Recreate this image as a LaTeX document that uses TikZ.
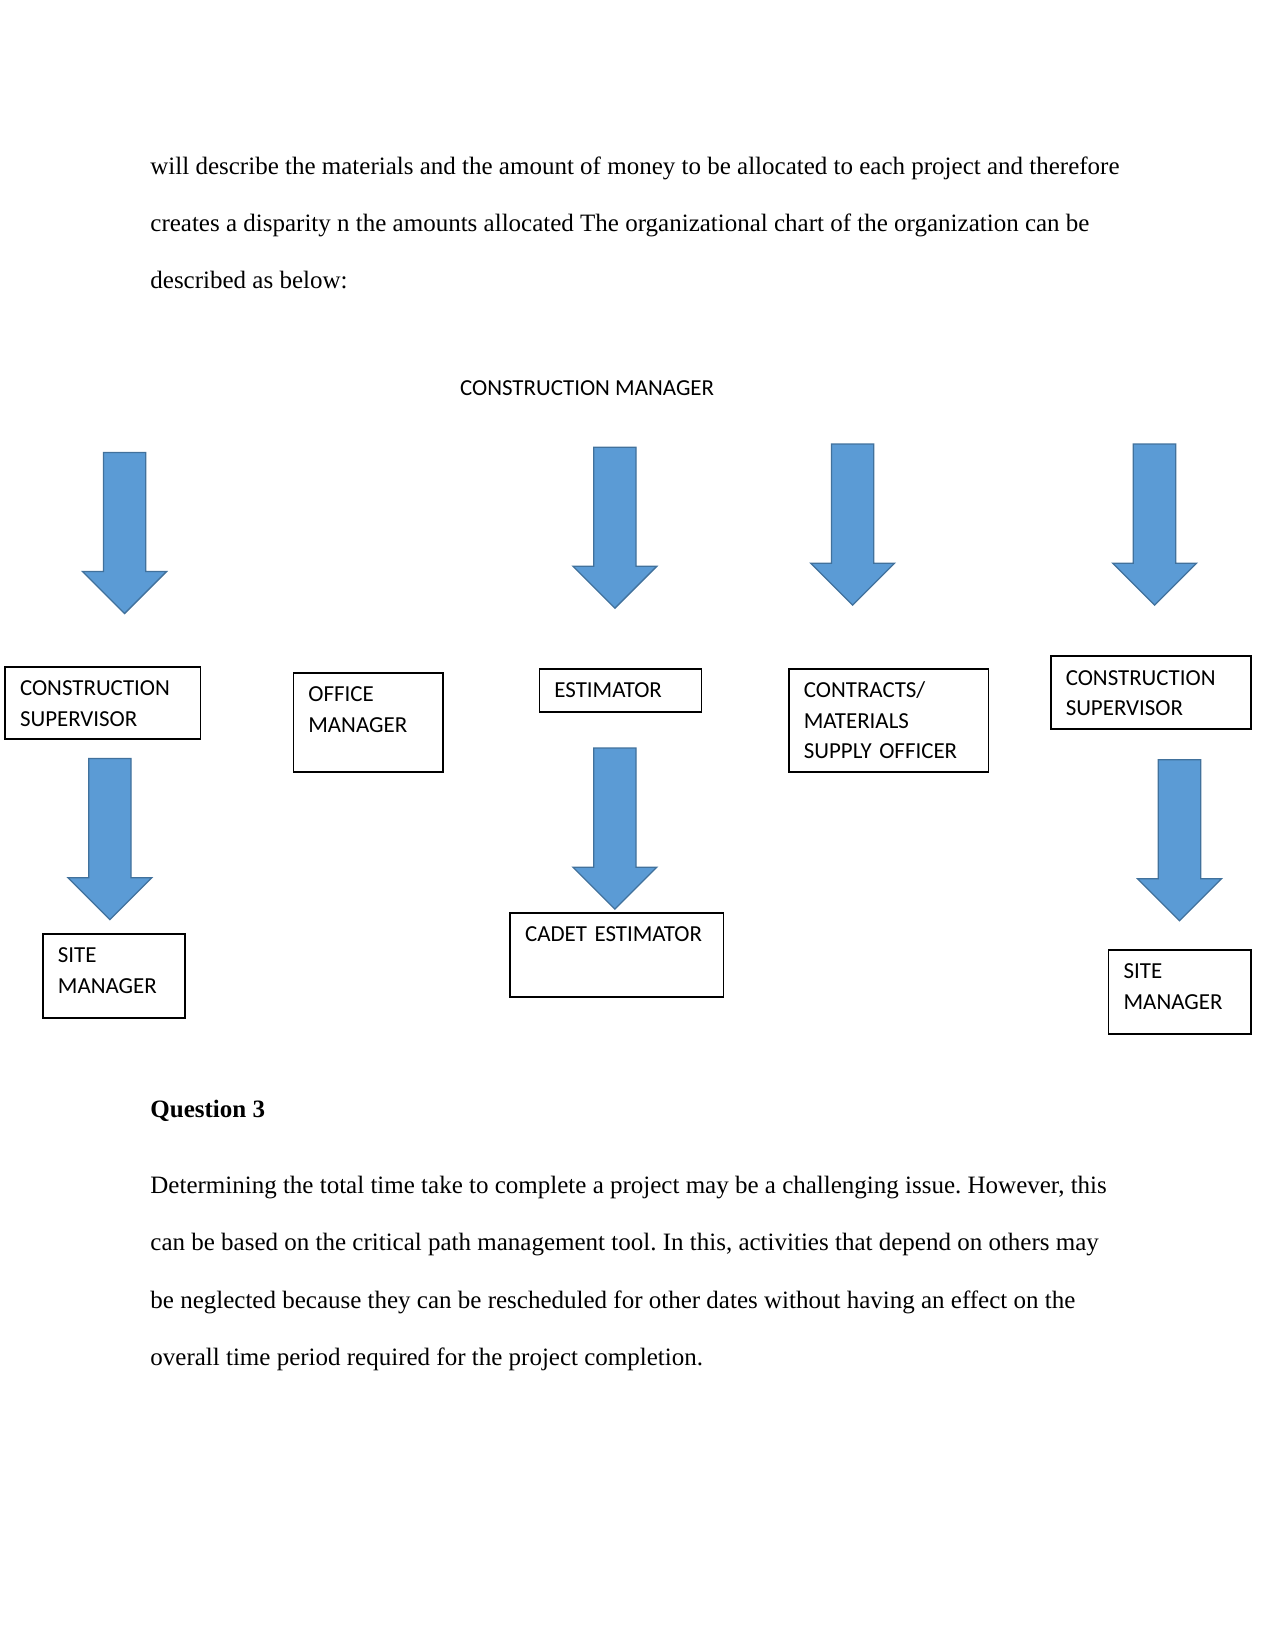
\documentclass[tikz,border=0pt]{standalone}
\usepackage{xcolor}
\usepackage{tikz}
\usepackage{fontspec}
\setmainfont{Liberation Serif}
\newfontfamily\chartfont{Carlito}
\usetikzlibrary{shapes.arrows, positioning}
\definecolor{arrowblue}{HTML}{5B9BD5}
\definecolor{arrowedge}{HTML}{41719C}
\tikzstyle{downarrow} = [single arrow, draw=arrowedge, fill=arrowblue, line width=0.6pt, shape border rotate=270, minimum height=77.3pt, minimum width=0pt, single arrow head extend=10pt, inner sep=9.85pt, anchor=tip]
\frenchspacing

\begin{document}
\begin{tikzpicture}[
    x=0.48pt, y=-0.48pt,
    pagetext/.style={anchor=base west, inner sep=0pt, font=\fontsize{12}{14}\selectfont},
    chartbox/.style={draw, line width=0.8pt, anchor=north west, align=left, font=\chartfont\fontsize{11}{14.6}\selectfont, inner xsep=7.2pt, inner ysep=5.9pt, text height=8pt}
  ]
    \useasboundingbox (0,0) rectangle (1275,1650);

    % Text above the chart
    \node[pagetext] (p1) at (150,174.2) {will describe the materials and the amount of money to be allocated to each project and therefore};
    \node[pagetext] (p2) at (150,231.6) {creates a disparity n the amounts allocated The organizational chart of the organization can be};
    \node[pagetext] (p3) at (150,289) {described as below:};

    % Top of the chart
    \node[anchor=base west, inner sep=0pt, font=\chartfont\fontsize{11}{14}\selectfont] (cm) at (459.7,396) {CONSTRUCTION MANAGER};

    % Arrows from the manager
    \node[downarrow] (a1) at (124.6,614.4) {};
    \node[downarrow] (a2) at (614.9,609.1) {};
    \node[downarrow] (a3) at (852.6,606) {};
    \node[downarrow] (a4) at (1154.5,606) {};

    % Second level
    \node[chartbox, text width=79.5pt, text depth=15pt] (cs1) at (4.2,665.9) {CONSTRUCTION\\SUPERVISOR};
    \node[chartbox, text width=57.3pt, text depth=27.7pt] (om) at (292.5,672.2) {OFFICE\\MANAGER};
    \node[chartbox, text width=63.4pt, text depth=0.9pt] (est) at (538.6,668) {ESTIMATOR};
    \node[chartbox, text width=81.5pt, text depth=29.7pt] (cmso) at (788,668) {CONTRACTS/\\MATERIALS\\SUPPLY~OFFICER};
    \node[chartbox, text width=81.6pt, text depth=15pt] (cs2) at (1049.9,655.4) {CONSTRUCTION\\SUPERVISOR};

    % Arrows to the third level
    \node[downarrow] (a5) at (109.9,920.5) {};
    \node[downarrow] (a6) at (614.9,910) {};
    \node[downarrow] (a7) at (1179.5,921.6) {};

    % Third level
    \node[chartbox, text width=53.8pt, text depth=20.6pt] (sm1) at (42.1,933.1) {SITE\\MANAGER};
    \node[chartbox, text width=88.1pt, text depth=20.6pt] (cadet) at (509.2,912.1) {CADET ESTIMATOR};
    \node[chartbox, text width=53.8pt, text depth=20.6pt] (sm2) at (1107.8,949) {SITE\\MANAGER};

    % Text below the chart
    \node[pagetext, font=\bfseries\fontsize{12}{14}\selectfont] (q3) at (150,1117.5) {Question 3};
    \node[pagetext] (p4) at (150,1193.5) {Determining the total time take to complete a project may be a challenging issue. However, this};
    \node[pagetext] (p5) at (150,1250.9) {can be based on the critical path management tool. In this, activities that depend on others may};
    \node[pagetext] (p6) at (150,1308.3) {be neglected because they can be rescheduled for other dates without having an effect on the};
    \node[pagetext] (p7) at (150,1365.7) {overall time period required for the project completion.};
\end{tikzpicture}
\end{document}
